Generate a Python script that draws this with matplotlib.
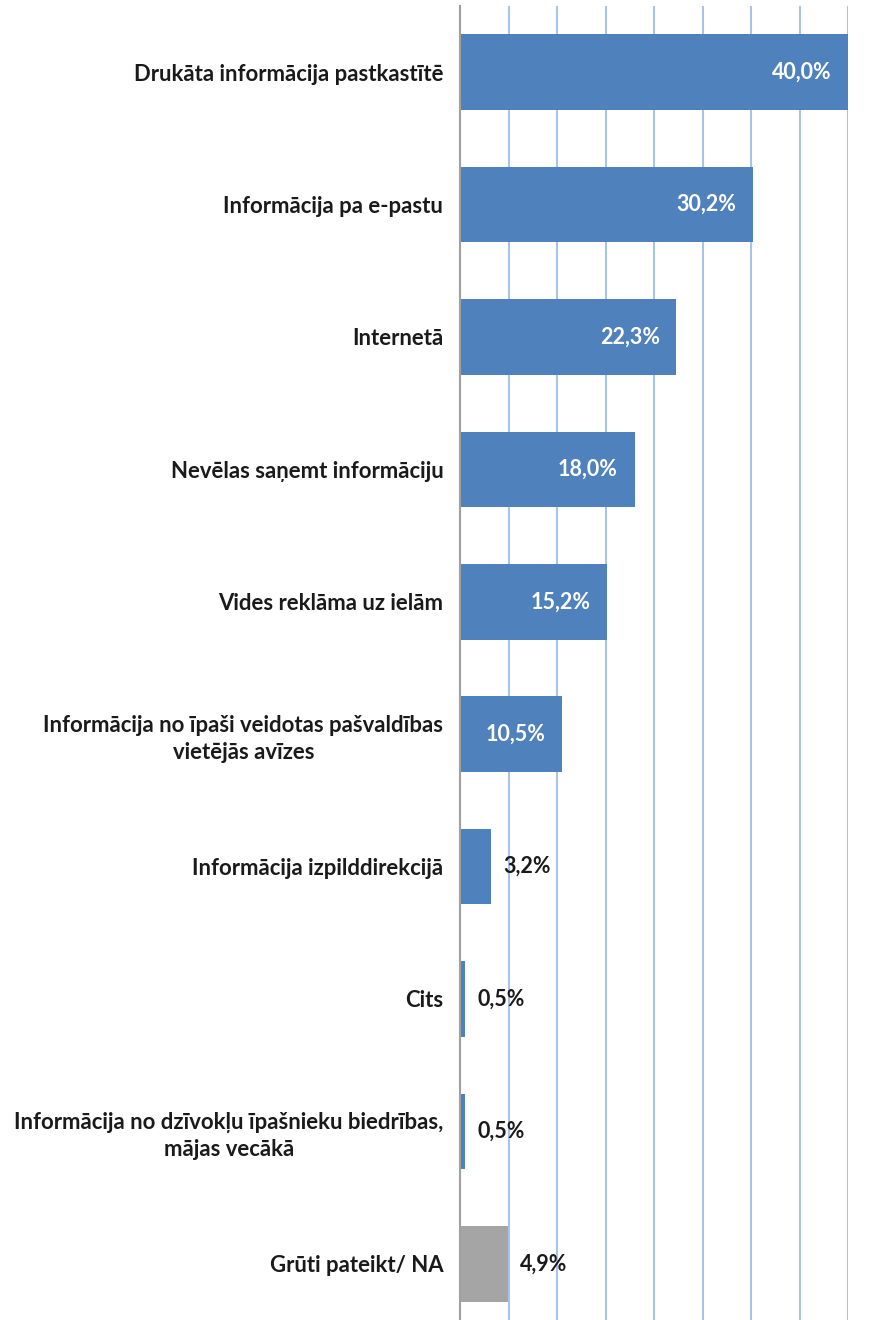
import matplotlib
matplotlib.use("Agg")
import matplotlib.pyplot as plt
import numpy as np

categories = [
    "Drukāta informācija pastkastītē",
    "Informācija pa e-pastu",
    "Internetā",
    "Nevēlas saņemt informāciju",
    "Vides reklāma uz ielām",
    "Informācija no īpaši veidotas pašvaldības\nvietējās avīzes",
    "Informācija izpilddirekcijā",
    "Cits",
    "Informācija no dzīvokļu īpašnieku biedrības,\nmājas vecākā",
    "Grūti pateikt/ NA",
]
values = [40.0, 30.2, 22.3, 18.0, 15.2, 10.5, 3.2, 0.5, 0.5, 4.9]
colors = ["#4f81bd"] * 9 + ["#a5a5a5"]

plt.rcParams['font.family'] = ['Lato', 'DejaVu Sans']

W, H = 883, 1320
fig = plt.figure(figsize=(W / 100, H / 100), dpi=100)
ax = fig.add_axes([460 / W, -10 / H, 388 / W, 1324 / H])

y = np.arange(len(categories))
ax.barh(y, values, height=0.57, color=colors, zorder=3)
ax.set_ylim(len(categories) - 0.5, -0.5)
ax.set_xlim(0, 40)

ax.set_xticks(np.arange(0, 41, 5))
ax.xaxis.grid(True, color="#a9c4eb", linewidth=1.5, zorder=0)
ax.tick_params(axis="x", length=0, labelbottom=False)
ax.tick_params(axis="y", length=0, pad=12)
ax.set_yticks(y)
ax.set_yticklabels(categories, fontsize=15.9, fontweight="bold", color="#1a1a1a",
                   multialignment="center", linespacing=1.35)

for s in ["top", "right", "bottom"]:
    ax.spines[s].set_visible(False)
ax.spines["left"].set_color("#a0a0a0")
ax.spines["left"].set_linewidth(1.5)
ax.spines["left"].set_zorder(4)

for yi, v in zip(y, values):
    txt = f"{v:.1f}".replace(".", ",") + "%"
    if v >= 10:
        ax.annotate(txt, (v, yi), xytext=(-12, 0), textcoords="offset points",
                    ha="right", va="center", color="white", fontsize=15.5,
                    fontweight="bold", zorder=5)
    else:
        ax.annotate(txt, (v, yi), xytext=(9, 0), textcoords="offset points",
                    ha="left", va="center", color="#1a1a1a", fontsize=15.5,
                    fontweight="bold", zorder=5)

fig.savefig("out.png", dpi=100)
